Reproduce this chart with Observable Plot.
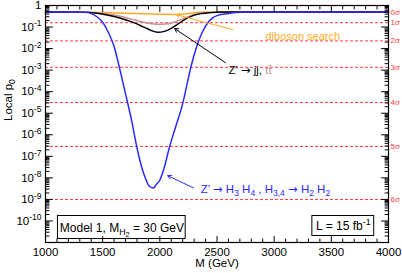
<!DOCTYPE html>
<html><head><meta charset="utf-8">
<script src="https://cdn.jsdelivr.net/npm/d3@7"></script>
<script src="https://cdn.jsdelivr.net/npm/@observablehq/plot@0.6"></script>
<style>body{margin:0;background:#fff}</style>
</head><body><div id="chart"></div>
<script>
// ---- data ----
const massH34 = [1000,1200,1350,1400,1450,1500,1550,1600,1650,1700,1750,1800,1850,1880,1905,1945,1970,2000,2040,2080,2140,2200,2240,2270,2300,2340,2380,2420,2460,2500,2600,2700,2800,3000,4000];
const pH34    = [0.50,0.50,0.48,0.42,0.30,0.166,0.056,0.0126,1.1e-3,7.9e-5,5.6e-6,2.5e-7,2.2e-8,7.9e-9,4.2e-9,3.4e-9,5.0e-9,7.9e-9,3.2e-8,2.2e-7,2.5e-6,2.8e-5,2.5e-4,1.26e-3,5.0e-3,0.023,0.071,0.158,0.26,0.34,0.43,0.48,0.50,0.50,0.50];
const massJJ = [1000,1300,1450,1550,1650,1750,1850,1920,1980,2040,2100,2160,2220,2290,2360,2450,2550,4000];
const pJJ    = [0.50,0.49,0.44,0.355,0.263,0.178,0.105,0.071,0.0575,0.063,0.087,0.141,0.229,0.339,0.417,0.468,0.50,0.50];
const massTT = [1000,1400,1550,1700,1800,1900,1980,2050,2120,2200,2280,2350,2450,4000];
const pTT    = [0.50,0.48,0.40,0.28,0.20,0.15,0.135,0.138,0.166,0.24,0.355,0.447,0.49,0.50];
const massVV = [1000,1500,1800,2000,2150,2250,2350,2450,4000];
const pVV    = [0.50,0.47,0.42,0.39,0.38,0.42,0.48,0.50,0.50];
const sigmaLabels = ["0σ","1σ","2σ","3σ","4σ","5σ","6σ"];
const sigmaP = [0.5,0.1587,0.02275,1.35e-3,3.17e-5,2.87e-7,9.87e-10];
const xTicks = [1000,1500,2000,2500,3000,3500,4000];
const yTicks = [1,1e-1,1e-2,1e-3,1e-4,1e-5,1e-6,1e-7,1e-8,1e-9,1e-10];
const yTickLabels = ["1","10^-1","10^-2","10^-3","10^-4","10^-5","10^-6","10^-7","10^-8","10^-9","10^-10"];

// ---- styling ----
const BLUE = "#2a2aff", PINK = "#c89090", ORANGE = "#ffaa22", RED = "#ff3b3b";
const FONT = "'Liberation Sans', Arial, Helvetica, sans-serif";
const ARROWFONT = "'DejaVu Sans', sans-serif";

const xMin = 1000, xMax = 4000, yMin = 1e-11, yMax = 1;
const xMinor = d3.range(1100, 4000, 100).filter(v => v % 500 !== 0);
const yMinor = [];
for (let e = -11; e < 0; e++) for (let m = 2; m <= 9; m++) yMinor.push(m * 10 ** e);
const yMajor = d3.range(-11, 1).map(e => 10 ** e);

const series = (m, p) => m.map((x, i) => ({x, y: p[i]}));

// annotations (data coordinates)
const arrows = [
  {x1: 2636, y1: 0.076, x2: 2140, y2: 0.38, color: ORANGE},
  {x1: 2575, y1: 2.2e-3, x2: 2130, y2: 0.085, color: "black"},
  {x1: 2296, y1: 3.4e-9, x2: 2069, y2: 1.26e-8, color: BLUE}
];
// parts: [text, level(0 normal, 1 sub, 2 subsub, -1 sup), color, isArrow]
const labels = [
  {x: 2924, y: 0.036, anchor: "start", size: 11, color: ORANGE, parts: [["diboson search",0]]},
  {x: 2601, y: 9.5e-4, anchor: "start", size: 11.5, color: "black", parts: [["Z’ ",0],["→",0,null,true],[" jj, ",0],["tt̄",0,PINK]]},
  {x: 2357, y: 3.1e-9, anchor: "start", size: 11.5, color: BLUE, parts: [["Z’ ",0],["→",0,null,true],[" H",0],["3",1],[" H",0],["4",1],[" , H",0],["3,4",1],[" ",0],["→",0,null,true],[" H",0],["2",1],[" H",0],["2",1]]},
  {x: 1668, y: 4.7e-11, anchor: "middle", size: 12, color: "black", parts: [["Model 1, M",0],["H",1],["2",2],[" = 30 GeV",0]]},
  {x: 3605, y: 5.9e-11, anchor: "middle", size: 12, color: "black", parts: [["L = 15 fb",0],["-1",-1]]}
];
const boxes = [
  {x1: 1109, x2: 2226, y1: 1.7e-10, y2: 1.45e-11},
  {x1: 3334, x2: 3875, y1: 1.7e-10, y2: 2.0e-11}
];
const yLabelParts = [["Local p",0],["0",1]];

const tickShape = {draw(ctx, l) { ctx.moveTo(0, 0); ctx.lineTo(0, -l); }};
const tk = (data, xf, yf, rot, len) => Plot.vector(data, {x: xf, y: yf, rotate: rot, length: len, anchor: "start", shape: tickShape, stroke: "black", strokeWidth: 1});
const joined = parts => parts.map(p => p[0]).join("");

const marks = [
  Plot.ruleY(sigmaP.slice(1), {stroke: RED, strokeDasharray: "3,2", strokeWidth: 1}),
  Plot.line(series(massVV, pVV), {x: "x", y: "y", stroke: ORANGE, strokeWidth: 1.5, curve: "monotone-x"}),
  Plot.line(series(massTT, pTT), {x: "x", y: "y", stroke: PINK, strokeWidth: 1.5, curve: "monotone-x"}),
  Plot.line(series(massJJ, pJJ), {x: "x", y: "y", stroke: "black", strokeWidth: 1.4, curve: "monotone-x"}),
  Plot.line(series(massH34, pH34), {x: "x", y: "y", stroke: BLUE, strokeWidth: 1.5, curve: "monotone-x"}),
  Plot.rect(boxes, {x1: "x1", x2: "x2", y1: "y1", y2: "y2", fill: "white", stroke: "black", strokeWidth: 1}),
  ...arrows.map(a => Plot.arrow([a], {x1: "x1", y1: "y1", x2: "x2", y2: "y2", stroke: a.color, strokeWidth: 1, headLength: 6})),
  ...labels.map(l => Plot.text([l], {x: "x", y: "y", text: d => joined(d.parts), textAnchor: l.anchor, fill: l.color, fontSize: l.size})),
  Plot.text(sigmaP, {x: () => xMax, y: d => d, text: (d, i) => sigmaLabels[i], dx: 2, textAnchor: "start", fill: RED, fontSize: 8}),
  // ticks (inward)
  tk(xMinor, d => d, () => yMin, 0, 3.5),
  tk(xTicks, d => d, () => yMin, 0, 6),
  tk(xMinor, d => d, () => yMax, 180, 3.5),
  tk(xTicks, d => d, () => yMax, 180, 6),
  tk(yMinor, () => xMin, d => d, 90, 3.5),
  tk(yMajor, () => xMin, d => d, 90, 7),
  tk(yMinor, () => xMax, d => d, -90, 3.5),
  tk(yMajor, () => xMax, d => d, -90, 7),
  Plot.frame({stroke: "black", strokeWidth: 1.2}),
  Plot.axisX({ticks: xTicks, tickSize: 0, tickPadding: 5, fontSize: 11.5, label: null, tickFormat: d => String(d)}),
  Plot.axisY({ticks: yTicks, tickSize: 0, tickPadding: 4, fontSize: 11.5, label: null, tickFormat: d => yTickLabels[yTicks.indexOf(d)]}),
  Plot.text(["M (GeV)"], {frameAnchor: "bottom", dy: 24, text: d => d, fontSize: 11.5}),
  Plot.text([joined(yLabelParts)], {frameAnchor: "left", dx: -37, dy: -3, rotate: -90, text: d => d, fontSize: 11.5})
];

const chart = Plot.plot({
  width: 402, height: 273,
  marginLeft: 45, marginRight: 14, marginTop: 5, marginBottom: 31,
  style: {fontFamily: FONT, background: "white"},
  x: {domain: [xMin, xMax]},
  y: {type: "log", domain: [yMin, yMax]},
  marks
});
document.getElementById("chart").append(chart);

// ---- rich text (sub/superscripts) ----
function rich(el, parts, fs) {
  const t = d3.select(el);
  t.text(null);
  let cur = 0;
  for (const [s, lvl, color, isArrow] of parts) {
    const off = lvl === 1 ? 3 : lvl === 2 ? 5.5 : lvl === -1 ? -4.5 : 0;
    const size = lvl === 0 ? fs : lvl === 2 ? fs * 0.6 : fs * 0.74;
    const ts = t.append("tspan").text(s).attr("dy", off - cur).attr("font-size", size);
    if (color) ts.attr("fill", color);
    if (isArrow) ts.attr("font-family", ARROWFONT);
    cur = off;
  }
}
const svg = d3.select(chart);
const allTexts = svg.selectAll("text").nodes();
const applyRich = (str, parts, fs) => allTexts.filter(n => n.textContent === str).forEach(n => rich(n, parts, fs));
labels.forEach(l => applyRich(joined(l.parts), l.parts, l.size));
applyRich(joined(yLabelParts), yLabelParts, 11.5);
allTexts.forEach(n => {
  const s = n.textContent;
  if (/^10\^/.test(s)) { const [b, e] = s.split("^"); rich(n, [[b,0],[e,-1]], 11.5); }
});
</script>
</body></html>
